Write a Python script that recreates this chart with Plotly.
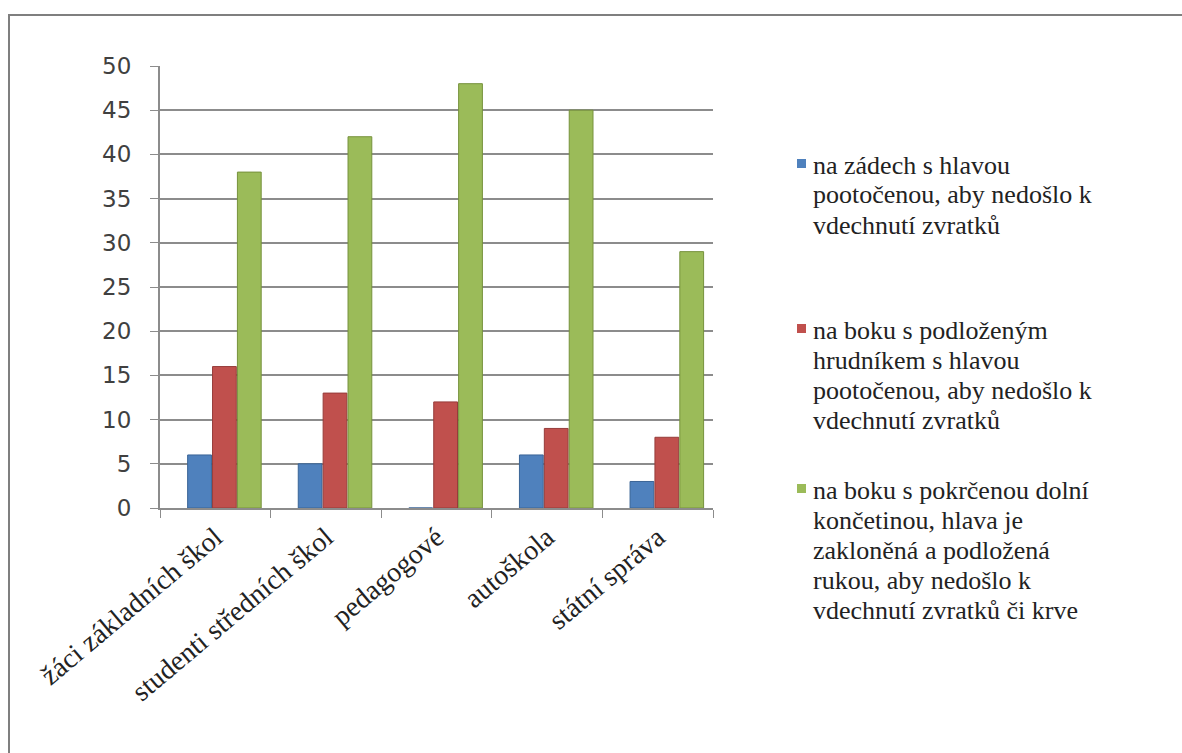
import plotly.graph_objects as go

categories = ["žáci základních škol", "studenti středních škol", "pedagogové", "autoškola", "státní správa"]
series_lines = [
    ["na zádech s hlavou", "pootočenou, aby nedošlo k", "vdechnutí zvratků"],
    ["na boku s podloženým", "hrudníkem s hlavou", "pootočenou, aby nedošlo k", "vdechnutí zvratků"],
    ["na boku s pokrčenou dolní", "končetinou, hlava je", "zakloněná a podložená", "rukou, aby nedošlo k", "vdechnutí zvratků či krve"],
]
blue_vals = [6, 5, 0, 6, 3]
red_vals = [16, 13, 12, 9, 8]
green_vals = [38, 42, 48, 45, 29]
y_ticks = [0, 5, 10, 15, 20, 25, 30, 35, 40, 45, 50]

colors = ["#4F81BD", "#C0504D", "#9BBB59"]
edges = ["#3A6496", "#963C3A", "#76923C"]
bar_offsets = [-0.25, -0.025, 0.20]
bar_width = 0.215

W, H = 1182, 753
L, R, T, B = 160, W - 713, 66, H - 508
pw, ph = W - L - R, H - T - B

def px(x):
    return (x - L) / pw

def py(y):
    return (H - B - y) / ph

serif = "Liberation Serif"

fig = go.Figure()
for vals, lines, c, e, off in zip([blue_vals, red_vals, green_vals], series_lines, colors, edges, bar_offsets):
    fig.add_trace(go.Bar(
        x=categories, y=vals, name=" ".join(lines), showlegend=False,
        width=bar_width, offset=off,
        marker=dict(color=c, line=dict(color=e, width=1)),
    ))

# legend drawn as text lines with colour keys (centre of first line in pixels)
legend_first_centres = [165, 330, 490]
line_step = 30
annotations = []
shapes = [
    dict(type="rect", xref="paper", yref="paper",
         x0=px(9), x1=px(1190), y0=py(760), y1=py(15),
         line=dict(color="#7f7f7f", width=2), fillcolor="rgba(0,0,0,0)", layer="below"),
]
for lines, c, yc in zip(series_lines, colors, legend_first_centres):
    for i, ln in enumerate(lines):
        annotations.append(dict(
            xref="paper", yref="paper", x=px(811), y=py(yc + i * line_step),
            xanchor="left", yanchor="middle",
            text=ln, showarrow=False, align="left",
            font=dict(family=serif, size=26, color="#222222"),
        ))
    shapes.append(dict(
        type="rect", xref="paper", yref="paper",
        x0=px(797), x1=px(806), y0=py(yc + 3), y1=py(yc - 6),
        line=dict(width=0), fillcolor=c,
    ))

fig.update_layout(
    width=W, height=H,
    font=dict(family=serif, size=20, color="#222222"),
    margin=dict(l=L, r=R, t=T, b=B, autoexpand=False),
    paper_bgcolor="white", plot_bgcolor="white",
    barmode="group",
    showlegend=False,
    xaxis=dict(
        tickangle=-40,
        tickfont=dict(family=serif, size=28, color="#222222"),
        showline=True, linecolor="#8c8c8c", linewidth=2,
        ticks="outside", ticklen=8, tickcolor="#8c8c8c", tickson="boundaries",
        showgrid=False, range=[-0.5, 4.5],
    ),
    yaxis=dict(
        range=[0, 50], tickvals=y_ticks,
        tickfont=dict(family="DejaVu Sans", size=23, color="#404040"),
        showline=True, linecolor="#8c8c8c", linewidth=2,
        ticks="outside", ticklen=8, tickcolor="#8c8c8c", ticklabelstandoff=14,
        showgrid=True, gridcolor="#8c8c8c", gridwidth=1.5,
        zeroline=False,
    ),
    annotations=annotations,
    shapes=shapes,
)

fig.write_html("out.html")
